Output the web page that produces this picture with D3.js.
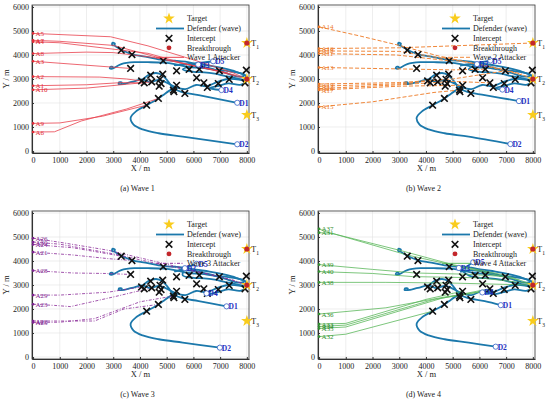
<!DOCTYPE html>
<html>
<head>
<meta charset="utf-8">
<script src="https://cdn.jsdelivr.net/npm/d3@7"></script>
<style>
body { margin: 0; background: #fff; }
text { font-family: "Liberation Serif", "Times New Roman", serif; }
</style>
</head>
<body>
<div id="chart"></div>
<script>
// ---- data ----
const xTicks = [0, 1000, 2000, 3000, 4000, 5000, 6000, 7000, 8000];
const yTicks = [0, 1000, 2000, 3000, 4000, 5000, 6000];
const captions = ["(a) Wave 1", "(b) Wave 2", "(c) Wave 3", "(d) Wave 4"];
const legendLabels = ["Target", "Defender (wave)", "Intercept", "Breakthrough"];
const attackerLegend = ["Wave 1 Attacker", "Wave 2 Attacker", "Wave 3 Attacker", "Wave 4 Attacker"];

const targetNames = ["1", "2", "3"];
const targetPos = [[8000, 4500], [8000, 3000], [8000, 1500]];
const breakthroughPos = [[8000, 4500], [8000, 3000]];

const intercepts = [
  [3300, 4200], [3700, 4020], [4870, 3760], [3650, 3440], [4400, 3160], [4850, 3200],
  [5370, 3340], [5840, 3400], [6220, 3410], [6970, 3340], [7980, 3370], [4060, 2920],
  [4160, 2840], [4440, 2880], [4750, 2990], [4790, 2810], [4720, 2700], [5250, 2540],
  [5270, 2470], [5680, 2400], [5370, 2740], [6120, 3050], [6390, 2840], [6520, 2650],
  [6930, 2810], [7340, 2980], [7930, 2840], [4690, 2190], [4250, 1910]
];

const defenderIds = ["D1", "D2", "D3", "D4", "D5"];
const defenderPaths = [
  [[4050, 2900], [4300, 3150], [4600, 3250], [4850, 3150], [5050, 2900], [5250, 2620], [5550, 2460], [6200, 2330]],
  [[5250, 2620], [4950, 2400], [4690, 2190], [4250, 1910], [3850, 1650], [3650, 1380], [3760, 1100], [4100, 900], [4700, 740], [5600, 600]],
  [[2950, 3420], [2870, 3440], [2900, 3510], [2990, 3490], [2950, 3420], [3300, 3620], [3800, 3700], [4300, 3700], [4900, 3680],
   [5300, 3620], [5800, 3500], [6300, 3460], [6800, 3380], [7300, 3330], [7700, 3260], [7950, 3150], [7950, 2980], [7650, 3020],
   [7200, 3120], [6800, 3220], [6400, 3280], [6000, 3300], [5600, 3400]],
  [[3300, 2790], [3200, 2790], [3220, 2860], [3320, 2850], [3300, 2790], [3700, 2880], [4100, 2980], [4400, 2870], [4700, 2960],
   [5000, 2850], [5300, 2680], [5700, 2580], [6100, 2750], [6500, 2700], [6900, 2880], [7300, 3000], [7700, 2970], [7950, 2880],
   [7750, 2760], [7300, 2820], [6900, 2700], [6600, 2620]],
  [[3050, 4400], [2960, 4420], [2970, 4510], [3060, 4480], [3050, 4400], [3300, 4230], [3700, 4030], [4200, 3930], [4870, 3790],
   [5300, 3760], [5700, 3720], [6100, 3640], [6600, 3560], [7100, 3450], [7600, 3300], [7900, 3150], [7700, 3100], [7200, 3250],
   [6700, 3420], [6200, 3550], [5600, 3620], [5300, 3560]]
];
// defender end positions (D1..D5) for each wave
const defenderEndsW1 = [[7640, 2010], [7640, 280], [6180, 3600], [7050, 2540], [6740, 3740]];
const defenderEndsW2 = [[7480, 2080], [7160, 290], [5910, 3620], [6860, 2560], [6410, 3770]];
const defenderEndsW3 = [[7240, 2110], [6990, 390], [5680, 3700], [6490, 2650], [6120, 3880]];
const defenderEndsW4 = [[6800, 2160], [6610, 430], [5230, 3710], [6110, 2690], [5770, 3950]];

const wave1Ids = ["A5", "A7", "A4", "A8", "A3", "A2", "A1", "A10", "A9", "A6"];
const wave1Paths = [
  [[0, 4900], [2900, 4760], [4300, 4380], [6000, 3800], [7500, 3250], [7950, 3020]],
  [[0, 4610], [1000, 4570], [3000, 4400], [5000, 3800], [6800, 3350], [7800, 3060]],
  [[0, 4550], [1000, 4510], [4300, 4070], [5800, 3600], [7300, 3250]],
  [[0, 4060], [2000, 4120], [3000, 4100], [4500, 3900], [6500, 3450], [7600, 3150]],
  [[0, 3740], [2900, 3500], [3650, 3440]],
  [[0, 3100], [2500, 3080], [3500, 3000], [4060, 2920]],
  [[0, 2720], [2000, 2760], [3300, 2850], [4160, 2840]],
  [[0, 2550], [2000, 2620], [3500, 2780], [4440, 2880]],
  [[0, 1150], [1000, 1170], [2600, 1450], [4250, 1910]],
  [[0, 790], [800, 800], [1800, 1250], [3500, 1750], [4690, 2190]]
];

const wave2Ids = ["A14", "A16", "A18", "A11", "A13", "A19", "A12", "A20", "A17", "A15"];
const wave2Paths = [
  [[0, 5170], [1500, 4800], [3000, 4400], [4500, 3950], [6000, 3600], [7500, 3200], [7950, 3050]],
  [[0, 4270], [3000, 4300], [5500, 4400], [8000, 4500]],
  [[0, 4170], [3000, 4150], [5000, 3800], [6500, 3500], [7600, 3200]],
  [[0, 4060], [2900, 4000], [4870, 3760]],
  [[0, 3480], [3000, 3420], [5000, 3380], [6220, 3410]],
  [[0, 2790], [3000, 2850], [5000, 3000], [6970, 3340]],
  [[0, 2700], [3000, 2800], [4750, 2990]],
  [[0, 2600], [3000, 2760], [5000, 2900], [6390, 2840]],
  [[0, 2540], [3000, 2700], [5370, 2740]],
  [[0, 1840], [2000, 2050], [4300, 2440], [5250, 2540]]
];

const wave3Ids = ["A26", "A30", "A24", "A21", "A28", "A29", "A23", "A22", "A25"];
const wave3Paths = [
  [[0, 4950], [1000, 4780], [2800, 4450], [4500, 4000], [6000, 3600], [7500, 3200], [7950, 3000]],
  [[0, 4790], [1000, 4700], [3000, 4300], [5000, 3800], [7000, 3350], [7900, 3050]],
  [[0, 4690], [1500, 4550], [2800, 4300], [3300, 4200]],
  [[0, 4370], [1500, 4250], [2800, 4100], [3700, 4020]],
  [[0, 3600], [1500, 3500], [2700, 3480], [3650, 3440]],
  [[0, 2580], [1000, 2580], [2800, 2700], [4060, 2920]],
  [[0, 2200], [800, 2150], [1400, 2100], [3000, 2500], [4440, 2880]],
  [[0, 1500], [1200, 1500], [2300, 1500], [3400, 2000], [4690, 2190]],
  [[0, 1440], [1000, 1450], [2300, 1600], [4000, 2300], [5250, 2540]]
];

const wave4Ids = ["A37", "A31", "A39", "A40", "A38", "A36", "A33", "A34", "A35", "A32"];
const wave4Paths = [
  [[0, 5340], [300, 5200], [3000, 4450], [5000, 3850], [7000, 3400], [7900, 3050]],
  [[0, 5180], [500, 5150], [3300, 4250], [5500, 3700], [7500, 3200]],
  [[0, 3850], [2000, 3650], [3600, 3500], [5500, 3450], [7000, 3350]],
  [[0, 3560], [2000, 3480], [3500, 3350], [6000, 3300], [7950, 3050]],
  [[0, 3110], [2500, 3110], [5000, 3080], [7900, 3000]],
  [[0, 1790], [2500, 2050], [4700, 2500], [6500, 2800]],
  [[0, 1370], [1000, 1400], [4000, 2400], [5400, 2750]],
  [[0, 1270], [1000, 1330], [4300, 2400], [6000, 2700]],
  [[0, 1190], [1000, 1250], [4600, 2450], [6400, 2850]],
  [[0, 850], [1000, 950], [4250, 1910]]
];

// ---- layout & styles ----
const W = 550, H = 405;
const pw = 217, ph = 148;
const panelPos = [[32, 5], [318, 5], [32, 211], [318, 211]];
const waveColors = ["#e8404c", "#f0873a", "#8a2b98", "#5cb85c"];
const waveLabelColors = ["#e02a36", "#ec7a2a", "#7e2390", "#2f8f2f"];
const waveDash = [null, "4,2", "3,1.5,1,1.5", null];
const defColor = "#1b78ab";

const waveIds = [wave1Ids, wave2Ids, wave3Ids, wave4Ids];
const wavePaths = [wave1Paths, wave2Paths, wave3Paths, wave4Paths];
const waveEnds = [defenderEndsW1, defenderEndsW2, defenderEndsW3, defenderEndsW4];

const svg = d3.select("#chart").append("svg")
  .attr("width", W).attr("height", H);

const x = d3.scaleLinear().domain([-40, 8080]).range([0, pw]);
const y = d3.scaleLinear().domain([-83, 6083]).range([ph, 0]);

const line = d3.line().x(d => x(d[0])).y(d => y(d[1]));
const smooth = d3.line().x(d => x(d[0])).y(d => y(d[1])).curve(d3.curveCatmullRom.alpha(0.5));

function drawPanel(i) {
  const g = svg.append("g")
    .attr("transform", `translate(${panelPos[i][0]},${panelPos[i][1]})`);

  // grid
  g.append("g").selectAll("line").data(xTicks).join("line")
    .attr("x1", d => x(d)).attr("x2", d => x(d)).attr("y1", 0).attr("y2", ph)
    .attr("stroke", "#e2e2e2").attr("stroke-width", 0.6);
  g.append("g").selectAll("line").data(yTicks).join("line")
    .attr("y1", d => y(d)).attr("y2", d => y(d)).attr("x1", 0).attr("x2", pw)
    .attr("stroke", "#e2e2e2").attr("stroke-width", 0.6);

  // axes
  const fmt = d3.format("d");
  const xAxis = d3.axisBottom(x).tickValues(xTicks).tickFormat(fmt).tickSizeInner(-2).tickSizeOuter(0).tickPadding(4);
  const yAxis = d3.axisLeft(y).tickValues(yTicks).tickFormat(fmt).tickSizeInner(-2).tickSizeOuter(0).tickPadding(3);
  g.append("g").attr("class", "axis x-axis").attr("transform", `translate(0,${ph})`).call(xAxis);
  g.append("g").attr("class", "axis y-axis").call(yAxis);
  g.selectAll(".axis").attr("font-family", "Liberation Serif, serif").attr("font-size", 8);
  g.selectAll(".axis text").attr("fill", "#222");
  g.selectAll(".axis line, .axis path").attr("stroke", "#333");
  g.append("rect").attr("width", pw).attr("height", ph)
    .attr("fill", "none").attr("stroke", "#333").attr("stroke-width", 0.8);

  g.append("text").attr("x", pw / 2).attr("y", ph + 18).attr("text-anchor", "middle")
    .attr("font-size", 8.5).attr("fill", "#222").text("X / m");
  g.append("text").attr("transform", `translate(-23,${ph / 2}) rotate(-90)`)
    .attr("text-anchor", "middle").attr("font-size", 8.5).attr("fill", "#222").text("Y / m");
  g.append("text").attr("x", pw / 2 - 3).attr("y", ph + 38).attr("text-anchor", "middle")
    .attr("font-size", 8).attr("fill", "#222").text(captions[i]);

  // defenders
  const ends = waveEnds[i];
  const defTracks = defenderPaths.map((p, k) => p.concat([ends[k]]));
  g.append("g").selectAll("path").data(defTracks).join("path")
    .attr("d", smooth).attr("fill", "none")
    .attr("stroke", defColor).attr("stroke-width", 1.8);

  // attackers
  const ag = g.append("g");
  ag.selectAll("path").data(wavePaths[i]).join("path")
    .attr("d", line).attr("fill", "none")
    .attr("stroke", waveColors[i]).attr("stroke-width", i === 1 ? 1 : 0.8)
    .attr("stroke-dasharray", waveDash[i]);
  ag.selectAll("circle").data(wavePaths[i]).join("circle")
    .attr("cx", d => x(d[0][0])).attr("cy", d => y(d[0][1])).attr("r", 1.3)
    .attr("fill", waveLabelColors[i]);
  ag.selectAll("text").data(wavePaths[i]).join("text")
    .attr("x", d => x(d[0][0]) + 2.5).attr("y", d => y(d[0][1]) + 2.5)
    .attr("font-size", 7).attr("fill", waveLabelColors[i])
    .text((d, k) => waveIds[i][k]);

  // intercepts
  const cross = d3.symbol().type(d3.symbolX).size(30);
  g.append("g").selectAll("path").data(intercepts).join("path")
    .attr("d", cross).attr("transform", d => `translate(${x(d[0])},${y(d[1])})`)
    .attr("stroke", "#111").attr("stroke-width", 1.6).attr("fill", "none");

  // targets
  const star = d3.symbol().type(d3.symbolStar).size(42);
  g.append("g").selectAll("path").data(targetPos).join("path")
    .attr("d", star).attr("transform", d => `translate(${x(d[0])},${y(d[1])})`)
    .attr("fill", "#f9cc1d");
  g.append("g").selectAll("circle").data(breakthroughPos).join("circle")
    .attr("cx", d => x(d[0])).attr("cy", d => y(d[1])).attr("r", 2.6)
    .attr("fill", "#c3262b");
  const tl = g.append("g").selectAll("text").data(targetPos).join("text")
    .attr("x", d => x(d[0]) + 4.5).attr("y", d => y(d[1]) + 3)
    .attr("font-size", 8).attr("fill", "#111");
  tl.append("tspan").text("T");
  tl.append("tspan").attr("dy", 3).attr("font-size", 5.5).text((d, k) => targetNames[k]);

  // defender end markers
  const eg = g.append("g");
  eg.selectAll("circle").data(ends).join("circle")
    .attr("cx", d => x(d[0])).attr("cy", d => y(d[1])).attr("r", 2.6)
    .attr("fill", "#fff").attr("stroke", "#3060c8").attr("stroke-width", 0.8);
  eg.selectAll("text").data(ends).join("text")
    .attr("x", d => x(d[0]) + 2).attr("y", d => y(d[1]) + 3)
    .attr("font-size", 7.5).attr("font-weight", "bold").attr("fill", "#1f2fbf")
    .text((d, k) => defenderIds[k]);

  // legend
  const lg = g.append("g").attr("transform", "translate(123,0)");
  const rows = [13.5, 23.5, 33.3, 42.8, 52.3];
  lg.append("path").attr("d", star).attr("transform", `translate(14,${rows[0]})`).attr("fill", "#f9cc1d");
  lg.append("line").attr("x1", 1).attr("x2", 29).attr("y1", rows[1]).attr("y2", rows[1])
    .attr("stroke", defColor).attr("stroke-width", 1.8);
  lg.append("path").attr("d", cross).attr("transform", `translate(14,${rows[2]})`)
    .attr("stroke", "#111").attr("stroke-width", 1.6);
  lg.append("circle").attr("cx", 14).attr("cy", rows[3]).attr("r", 2.4).attr("fill", "#c3262b");
  lg.append("line").attr("x1", 1).attr("x2", 29).attr("y1", rows[4]).attr("y2", rows[4])
    .attr("stroke", waveColors[i]).attr("stroke-width", 1).attr("stroke-dasharray", waveDash[i]);
  lg.selectAll("text").data(legendLabels.concat([attackerLegend[i]])).join("text")
    .attr("x", 32).attr("y", (d, k) => rows[k] + 2.8)
    .attr("font-size", 8).attr("fill", "#222").text(d => d);
}

[0, 1, 2, 3].forEach(drawPanel);
</script>
</body>
</html>
